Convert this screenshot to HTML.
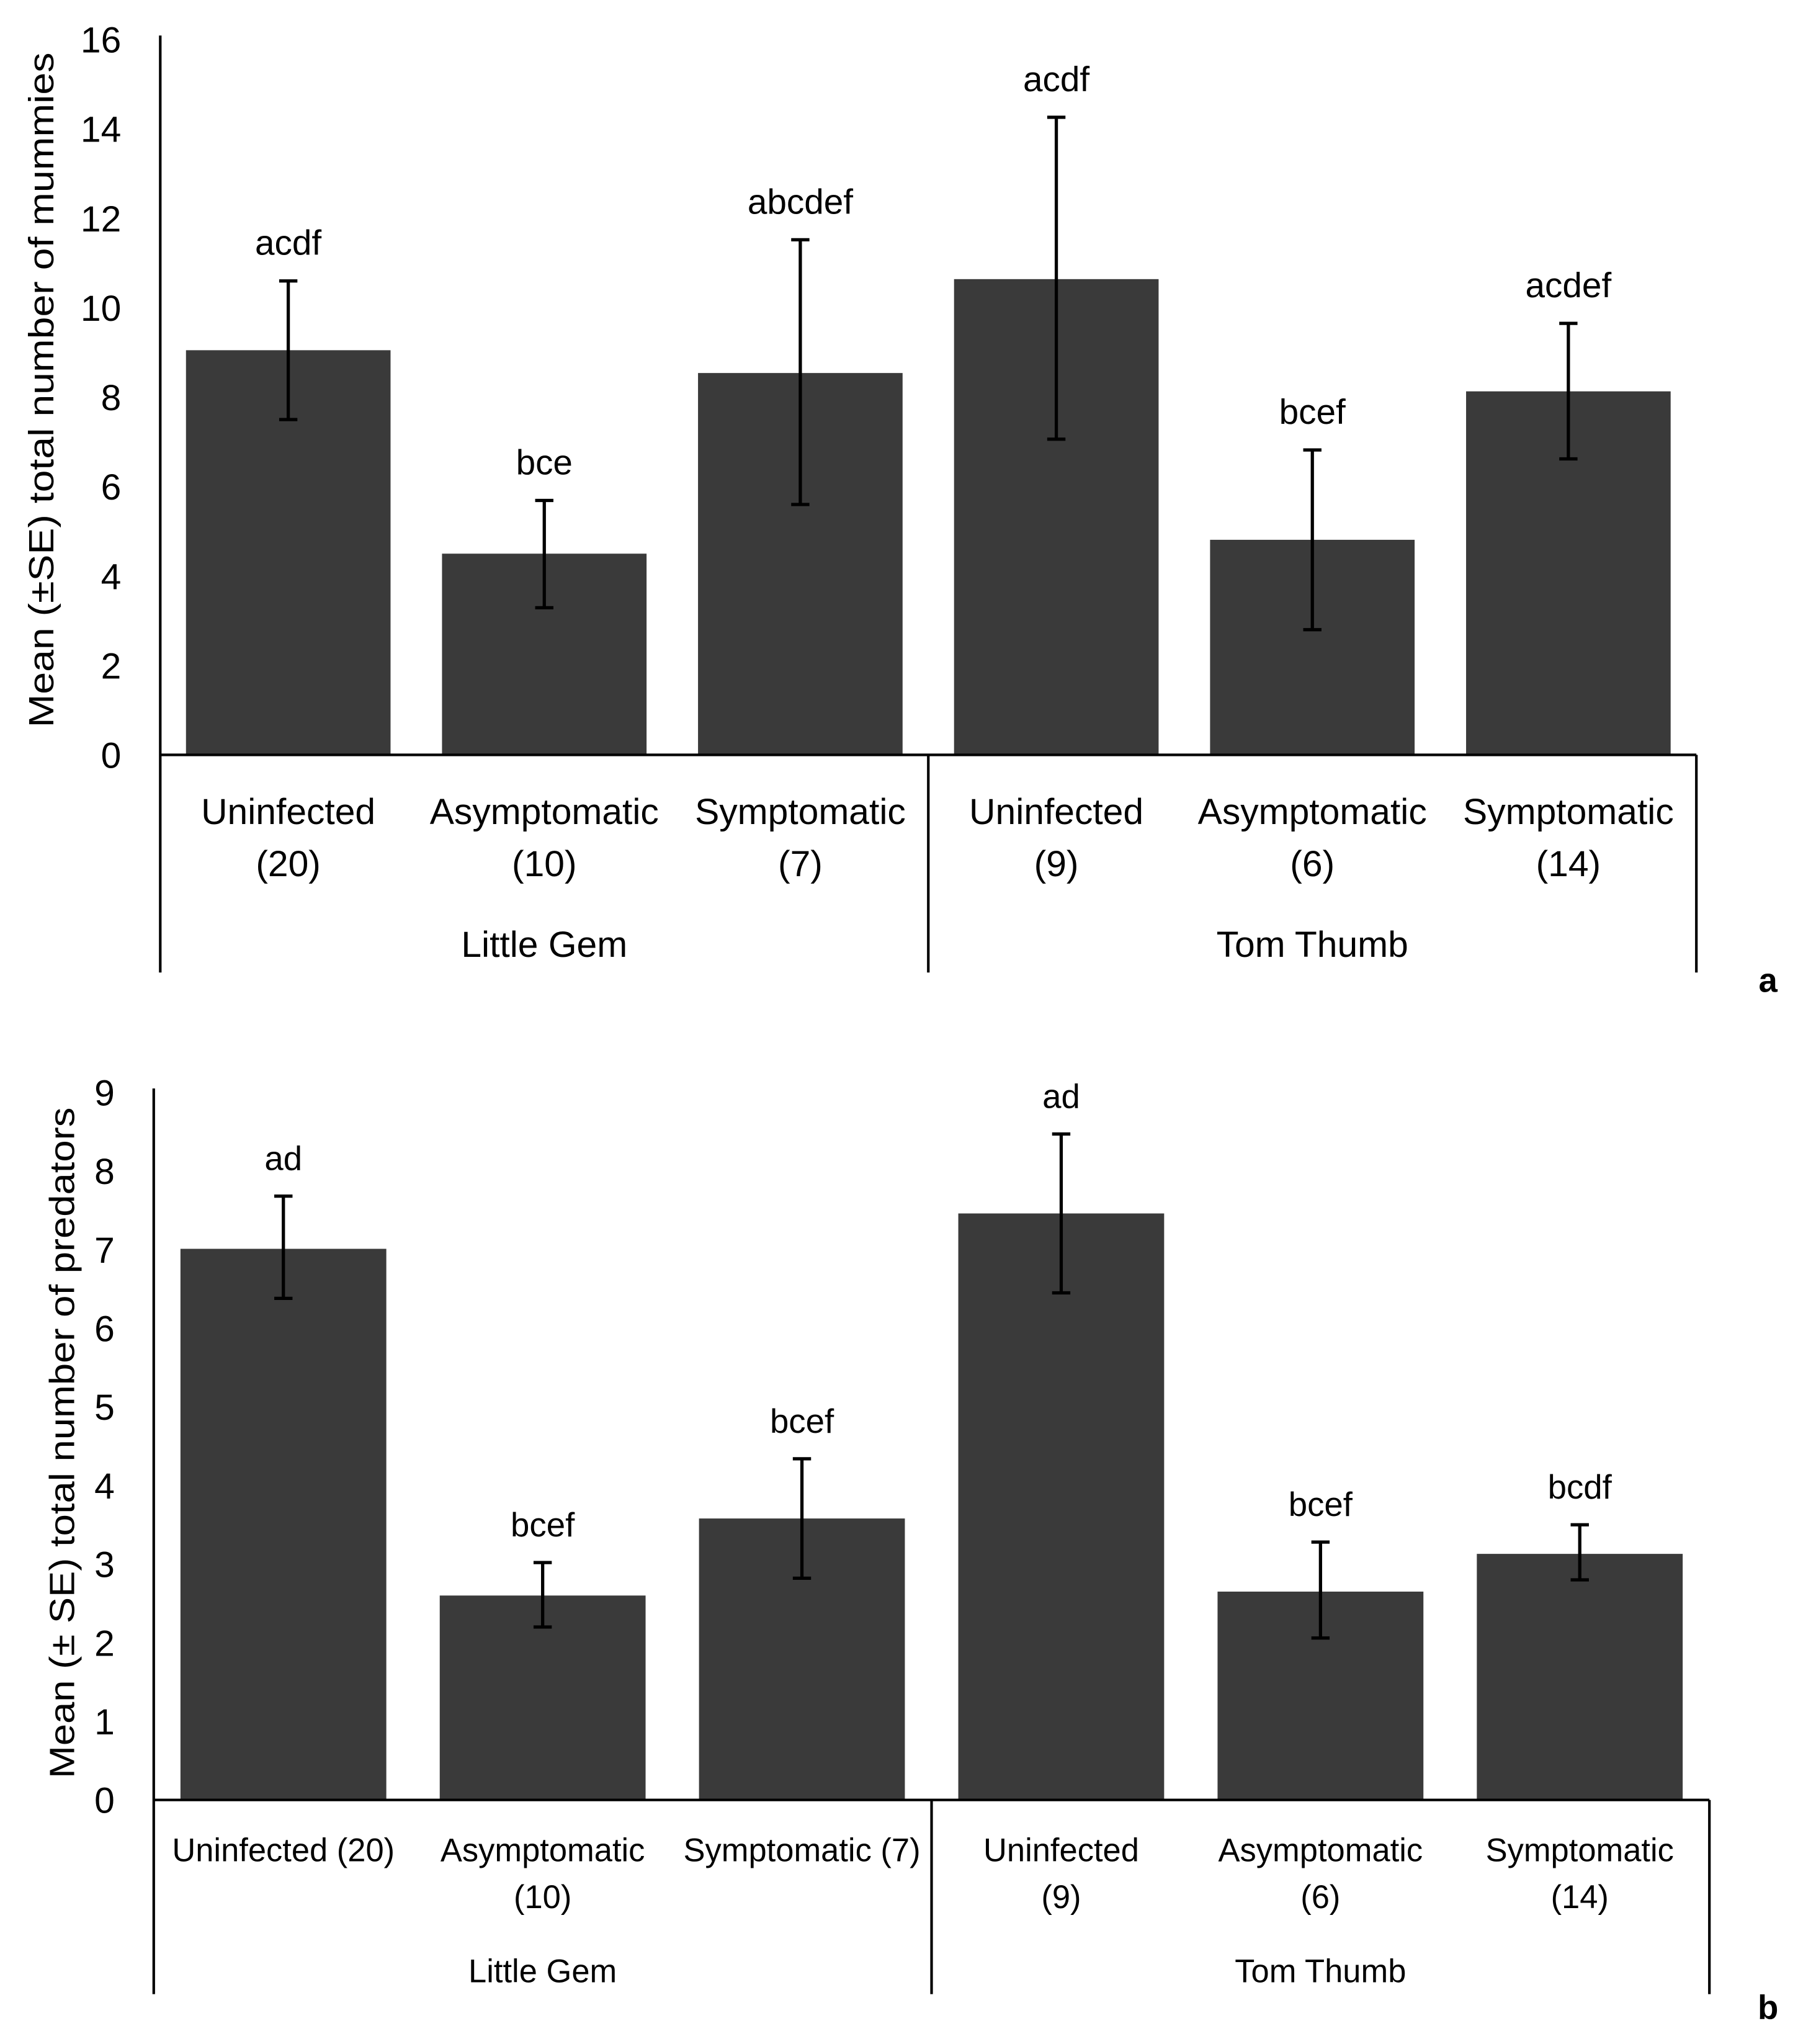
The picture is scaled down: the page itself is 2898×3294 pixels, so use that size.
<!DOCTYPE html>
<html><head><meta charset="utf-8"><style>
html,body{margin:0;padding:0;background:#fff;}
svg{display:block;}
text{font-family:"Liberation Sans",sans-serif;fill:#000;}
</style></head><body>
<svg id="chart" width="2898" height="3294" viewBox="0 0 1380 1568" xmlns="http://www.w3.org/2000/svg"></svg>
<script>
// Panel a data
const aMeans=[9.05,4.5,8.54,10.64,4.81,8.13];
const aHi=[10.6,5.69,11.52,14.26,6.82,9.65];
const aLo=[7.5,3.29,5.6,7.06,2.8,6.62];
const aLetters=["acdf","bce","abcdef","acdf","bcef","acdef"];
const aTicks=[0,2,4,6,8,10,12,14,16];
// Panel b data
const bMeans=[7.01,2.6,3.58,7.46,2.65,3.13];
const bHi=[7.68,3.02,4.34,8.47,3.28,3.5];
const bLo=[6.38,2.2,2.82,6.45,2.06,2.8];
const bLetters=["ad","bcef","bcef","ad","bcef","bcdf"];
const bTicks=[0,1,2,3,4,5,6,7,8,9];
const aCats=[["Uninfected","(20)"],["Asymptomatic","(10)"],["Symptomatic","(7)"],["Uninfected","(9)"],["Asymptomatic","(6)"],["Symptomatic","(14)"]];
const bCats=[["Uninfected (20)"],["Asymptomatic","(10)"],["Symptomatic (7)"],["Uninfected","(9)"],["Asymptomatic","(6)"],["Symptomatic","(14)"]];
const groups=["Little Gem","Tom Thumb"];

const svg=document.getElementById('chart');
const NS="http://www.w3.org/2000/svg";
function mk(tag,attrs,parent){const e=document.createElementNS(NS,tag);for(const k in attrs)e.setAttribute(k,attrs[k]);(parent||svg).appendChild(e);return e;}
function txt(s,attrs,parent){const e=mk('text',attrs,parent);e.textContent=s;return e;}

function panel(cfg){
  const g=mk('g',{});
  
  
  const y=v=>cfg.y0-(v/cfg.max)*(cfg.y0-cfg.yTop);
  const slot=(cfg.x1-cfg.x0)/6;
  const cx=i=>cfg.x0+slot*(i+0.5);
  cfg.ticks.forEach(t=>{
    const e=txt(String(t),{x:cfg.x0-30,y:y(t)+10,'text-anchor':'end','font-size':28},g);
    
    
  });
  cfg.means.forEach((m,i)=>{
    const r=mk('rect',{x:cx(i)-cfg.bw/2,y:y(m),width:cfg.bw,height:cfg.y0-y(m),fill:'#3a3a3a'},g);
    
    
    const eb=mk('path',{d:`M${cx(i)},${y(cfg.hi[i])}V${y(cfg.lo[i])}M${cx(i)-7},${y(cfg.hi[i])}H${cx(i)+7}M${cx(i)-7},${y(cfg.lo[i])}H${cx(i)+7}`,stroke:'#000','stroke-width':2.5,fill:'none'},g);
    
    
    const l=txt(cfg.letters[i],{x:cx(i),y:y(cfg.hi[i])-20,'text-anchor':'middle','font-size':cfg.fs},g);
    
    
    cfg.cats[i].forEach((line,j)=>{
      const c=txt(line,{x:cx(i),y:cfg.catY+j*cfg.catDy,'text-anchor':'middle','font-size':cfg.cfs},g);
      
      
    });
  });
  groups.forEach((gn,k)=>{
    const e=txt(gn,{x:cfg.x0+slot*(1.5+3*k),y:cfg.grpY,'text-anchor':'middle','font-size':cfg.cfs},g);
    
    
  });
  const ax=mk('path',{d:`M${cfg.x0},${cfg.yTop-3}V${cfg.yBot}M${cfg.x0},${cfg.y0}H${cfg.x1}M${cfg.x0+slot*3},${cfg.y0}V${cfg.yBot}M${cfg.x1},${cfg.y0}V${cfg.yBot}`,stroke:'#000','stroke-width':2,fill:'none'},g);
  
  
  const tt=txt(cfg.title,{transform:`translate(${cfg.titleX},${cfg.titleY}) rotate(-90)`,'text-anchor':'middle','font-size':27,textLength:cfg.titleLen,lengthAdjust:'spacingAndGlyphs'},g);
  
  
  const pl=txt(cfg.label,{x:1357,y:cfg.labelY,'text-anchor':'middle','font-size':26,'font-weight':'bold'},g);
  
  
}
panel({name:'panel-a',x0:123,x1:1302,y0:579,yTop:30,yBot:746,max:16,ticks:aTicks,means:aMeans,hi:aHi,lo:aLo,letters:aLetters,bw:157,fs:27,cats:aCats,cfs:28,catY:632,catDy:40,grpY:734,title:'Mean (±SE) total number of mummies',titleX:41,titleY:299,titleLen:518,label:'a',labelY:761});
panel({name:'panel-b',x0:118,x1:1312,y0:1381,yTop:838,yBot:1530,max:9,ticks:bTicks,means:bMeans,hi:bHi,lo:bLo,letters:bLetters,bw:158,fs:26,cats:bCats,cfs:25,catY:1428,catDy:36,grpY:1521,title:'Mean (± SE) total number of predators',titleX:57,titleY:1107,titleLen:515,label:'b',labelY:1549});
</script>
</body></html>
